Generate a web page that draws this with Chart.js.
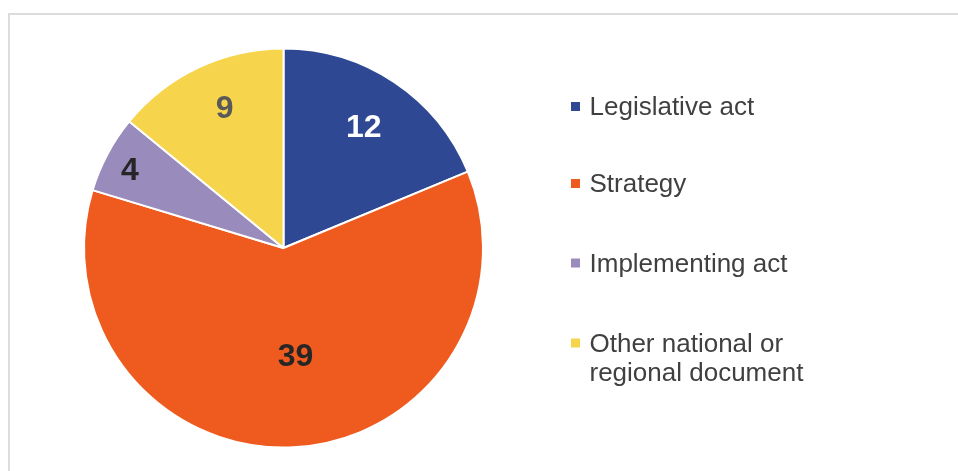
<!DOCTYPE html>
<html>
<head>
<meta charset="utf-8">
<script src="https://cdn.jsdelivr.net/npm/chart.js@4"></script>
<style>
  html, body { margin: 0; padding: 0; background: #fff; }
  body { width: 958px; height: 471px; position: relative; overflow: hidden; }
  #frame { position: absolute; left: 8px; top: 13px; width: 1200px; height: 800px;
           border-top: 2px solid #dcdcdc; border-left: 2px solid #dcdcdc; }
  #wrap { position: absolute; left: 0; top: 0; width: 958px; height: 471px; }
</style>
</head>
<body>
<div id="frame"></div>
<div id="wrap"><canvas id="pie"></canvas></div>
<script>
const categories = ['Legislative act', 'Strategy', 'Implementing act', ['Other national or', 'regional document']];
const counts = [12, 39, 4, 9];
const sliceColors = ['#2f4894', '#ef5b1e', '#998bbb', '#f6d54d'];
const labelColors = ['#ffffff', '#262626', '#262626', '#595959'];
// where each value label sits: fraction of radius, and a small turn (degrees) off the slice middle
const labelRadius = [0.733, 0.537, 0.868, 0.767];
const labelTurn = [-0.5, -3.6, -0.7, 2.7];

const valueLabels = {
    id: 'valueLabels',
    afterDatasetsDraw(chart) {
        const ctx = chart.ctx;
        const meta = chart.getDatasetMeta(0);
        const size = 32;
        ctx.save();
        ctx.font = 'bold ' + size + 'px "Liberation Sans", Arial, sans-serif';
        ctx.textAlign = 'center';
        ctx.textBaseline = 'alphabetic';
        meta.data.forEach((arc, i) => {
            const p = arc.getProps(['x', 'y', 'startAngle', 'endAngle', 'outerRadius'], true);
            const mid = (p.startAngle + p.endAngle) / 2 + labelTurn[i] * Math.PI / 180;
            const r = p.outerRadius * labelRadius[i];
            ctx.fillStyle = labelColors[i];
            ctx.fillText(String(counts[i]), p.x + Math.cos(mid) * r, p.y + Math.sin(mid) * r + size * 0.358);
        });
        ctx.restore();
    }
};

const sideLegend = {
    id: 'sideLegend',
    afterDraw(chart) {
        const ctx = chart.ctx;
        const baselines = [115, 192, 271.5, 351.5];
        ctx.save();
        ctx.font = '26px "Liberation Sans", Arial, sans-serif';
        ctx.textBaseline = 'alphabetic';
        categories.forEach((lab, i) => {
            const lines = Array.isArray(lab) ? lab : [lab];
            const y = baselines[i];
            ctx.fillStyle = sliceColors[i];
            ctx.fillRect(571, y - 13, 9, 9);
            ctx.fillStyle = '#404040';
            lines.forEach((t, j) => ctx.fillText(t, 589.5, y + j * 29));
        });
        ctx.restore();
    }
};

new Chart(document.getElementById('pie'), {
    type: 'pie',
    data: {
        labels: categories,
        datasets: [{
            data: counts,
            backgroundColor: sliceColors,
            borderColor: '#ffffff',
            borderWidth: 2
        }]
    },
    options: {
        responsive: true,
        maintainAspectRatio: false,
        animation: false,
        layout: { padding: { top: 47, bottom: 22, left: 83, right: 474 } },
        plugins: {
            legend: { display: false },
            tooltip: { enabled: false }
        }
    },
    plugins: [valueLabels, sideLegend]
});
</script>
</body>
</html>
